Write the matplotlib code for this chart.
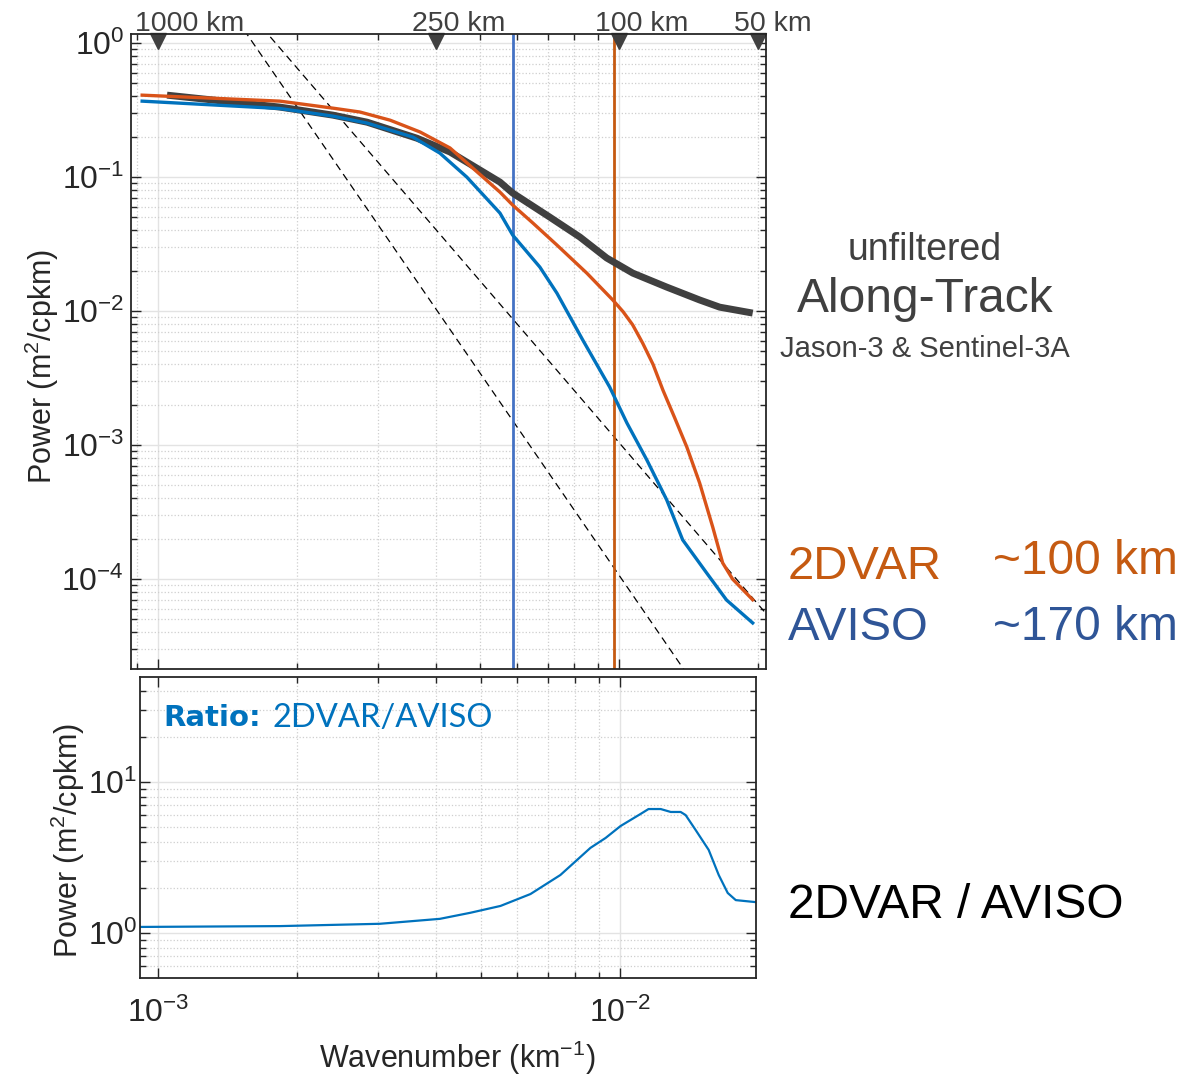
import numpy as np
import matplotlib
matplotlib.use("Agg")
import matplotlib.pyplot as plt
import matplotlib.transforms as mtransforms

plt.rcParams['font.family'] = ['Liberation Sans', 'DejaVu Sans']
plt.rcParams['mathtext.default'] = 'regular'
plt.rcParams['axes.unicode_minus'] = False

# ---- data ----
k_along = [0.001044, 0.001836, 0.002394, 0.002838, 0.003643, 0.004295, 0.005513,
           0.005876, 0.00707, 0.00822, 0.00940, 0.01071, 0.01269, 0.01496, 0.01653, 0.01950]
p_along = [0.409, 0.333, 0.290, 0.257, 0.195, 0.154, 0.0918,
           0.0760, 0.0503, 0.0357, 0.0249, 0.0192, 0.0151, 0.0121, 0.0107, 0.00966]

k_2dvar = [0.000922, 0.001836, 0.002394, 0.002739, 0.003184, 0.003700, 0.004295, 0.005513,
           0.005876, 0.00650, 0.00733, 0.00851, 0.00969, 0.01020, 0.01070, 0.01125,
           0.01185, 0.01245, 0.01320, 0.01403, 0.01496, 0.01597, 0.01678, 0.01763, 0.01950]
p_2dvar = [0.409, 0.369, 0.327, 0.306, 0.266, 0.217, 0.165, 0.0773,
           0.0618, 0.0454, 0.0311, 0.0192, 0.0121, 0.00990, 0.00790, 0.00577,
           0.00400, 0.00257, 0.00160, 0.000966, 0.000520, 0.000244, 0.000132, 0.000100, 0.000070]

k_aviso = [0.000922, 0.001836, 0.002394, 0.002838, 0.003566, 0.004083, 0.004672, 0.005513,
           0.005876, 0.00673, 0.00733, 0.00834, 0.00954, 0.01040, 0.01149, 0.01269,
           0.01374, 0.01549, 0.01711, 0.01950]
p_aviso = [0.369, 0.325, 0.285, 0.253, 0.199, 0.151, 0.100, 0.0539,
           0.0369, 0.0213, 0.0136, 0.00608, 0.00271, 0.00146, 0.000773, 0.000389,
           0.000196, 0.000111, 0.0000697, 0.0000470]

k_ratio = [0.000914, 0.001835, 0.003022, 0.004075, 0.004742, 0.005513, 0.00640, 0.00743,
           0.00863, 0.00931, 0.01003, 0.01108, 0.01153, 0.01225, 0.01288, 0.01353,
           0.01387, 0.01458, 0.01556, 0.01636, 0.01711, 0.01781, 0.01968]
ratio = [1.096, 1.11, 1.15, 1.24, 1.36, 1.51, 1.81, 2.42,
         3.66, 4.26, 5.11, 6.14, 6.62, 6.62, 6.33, 6.33,
         6.04, 4.81, 3.55, 2.42, 1.84, 1.65, 1.60]

cutoff_2dvar = 0.00977
cutoff_aviso = 1 / 170.0

# reference power laws  P = c * k^n
slope_exp = [-5, -4]
slope_coef = [10 ** -13.972, 10 ** -10.982]

scale_km = [1000, 250, 100, 50]

c_orange = '#D95319'
c_blue = '#0072BD'
c_grey = '#404040'
c_text = '#262626'

# ---- figure ----
fig = plt.figure(figsize=(12.04, 10.8), dpi=100)
ax1 = fig.add_axes([131 / 1204, 1 - 669 / 1080, 635 / 1204, 635 / 1080])
ax2 = fig.add_axes([140 / 1204, 1 - 978 / 1080, 616 / 1204, 301 / 1080])


def style_axis(ax):
    ax.set_xscale('log')
    ax.set_yscale('log')
    ax.grid(True, which='major', color='#e3e3e3', lw=1.0, ls='-')
    ax.grid(True, which='minor', color='#cfcfcf', lw=0.9, ls=':')
    ax.set_axisbelow(True)
    ax.tick_params(which='both', direction='in', top=True, right=True,
                   colors=c_text, labelsize=23, width=1.0)
    ax.tick_params(which='major', length=7)
    ax.tick_params(which='minor', length=4)
    for s in ax.spines.values():
        s.set_color(c_text)
        s.set_linewidth(1.3)


# ---- top panel ----
style_axis(ax1)
ax1.set_xlim(8.72e-4, 0.02084)
ax1.set_ylim(2.13e-5, 1.17)

kk = np.array([8e-4, 0.025])
for n, c in zip(slope_exp, slope_coef):
    ax1.plot(kk, c * kk ** n, color='black', ls=(0, (6, 4)), lw=0.9)

ax1.axvline(cutoff_aviso, color='#4472C4', lw=2.0)
ax1.axvline(cutoff_2dvar, color='#C55A11', lw=2.0)

ax1.plot(k_along, p_along, color=c_grey, lw=5, solid_capstyle='butt')
ax1.plot(k_2dvar, p_2dvar, color=c_orange, lw=2.4)
ax1.plot(k_aviso, p_aviso, color=c_blue, lw=2.4)

ax1.tick_params(labelbottom=False, pad=5)
ax1.set_yticks([1e-4, 1e-3, 1e-2, 1e-1, 1e0])
ax1.set_ylabel('Power (m$^2$/cpkm)', fontsize=22, color=c_text, va='center')
ax1.yaxis.set_label_coords(-0.140, 0.476)

trans = mtransforms.blended_transform_factory(ax1.transData, ax1.transAxes)
for km in scale_km:
    ax1.plot(1.0 / km, 0.989, marker='v', ms=11, color=c_grey,
             transform=trans, clip_on=False)
    ax1.annotate('%d km' % km, xy=(1.0 / km, 1.0), xycoords=trans,
                 xytext=(-17, 2), textcoords='offset points',
                 ha='left', va='baseline', fontsize=20.5, color=c_grey,
                 annotation_clip=False)

# ---- bottom panel ----
style_axis(ax2)
ax2.set_xlim(9.14e-4, 0.0197)
ax2.set_ylim(0.503, 49.6)
ax2.plot(k_ratio, ratio, color=c_blue, lw=1.6)
ax2.set_yticks([1e0, 1e1])
ax2.tick_params(axis='x', pad=14)
ax2.tick_params(axis='y', pad=2)
ax2.set_ylabel('Power (m$^2$/cpkm)', fontsize=22, color=c_text, va='center')
ax2.yaxis.set_label_coords(-0.117, 0.458)
ax2.set_xlabel('Wavenumber (km$^{-1}$)', fontsize=22, color=c_text, va='center')
ax2.xaxis.set_label_coords(0.515, -0.266)

fig.text(163 / 1204, 1 - 718 / 1080, 'Ratio:', fontsize=21, fontweight='bold',
         color=c_blue, ha='left', va='center', family=['DejaVu Sans'])
fig.text(272 / 1204, 1 - 718 / 1080, '2DVAR/AVISO', fontsize=23.5,
         color=c_blue, ha='left', va='center', family=['Lato', 'DejaVu Sans'])

# ---- side annotations ----
fig.text(925 / 1204, 1 - 250 / 1080, 'unfiltered', fontsize=27, color=c_grey,
         ha='center', va='center')
fig.text(925 / 1204, 1 - 300 / 1080, 'Along-Track', fontsize=34.5, color=c_grey,
         ha='center', va='center')
fig.text(925 / 1204, 1 - 349 / 1080, 'Jason-3 & Sentinel-3A', fontsize=21,
         color=c_grey, ha='center', va='center')

fig.text(788 / 1204, 1 - 567 / 1080, '2DVAR', fontsize=34, color='#C55A11',
         ha='left', va='center')
fig.text(993 / 1204, 1 - 562 / 1080, '~100 km', fontsize=34.5, color='#C55A11',
         ha='left', va='center')
fig.text(788 / 1204, 1 - 628 / 1080, 'AVISO', fontsize=34, color='#2F5597',
         ha='left', va='center')
fig.text(993 / 1204, 1 - 628 / 1080, '~170 km', fontsize=34.5, color='#2F5597',
         ha='left', va='center')
fig.text(788 / 1204, 1 - 905 / 1080, '2DVAR / AVISO', fontsize=34.5, color='black',
         ha='left', va='center')

fig.savefig('out.png', dpi=100)
